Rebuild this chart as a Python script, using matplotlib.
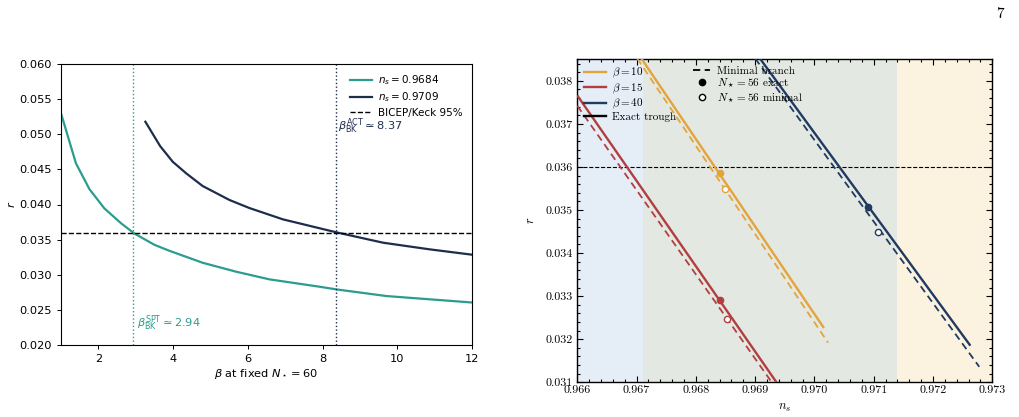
import numpy as np
import matplotlib
matplotlib.use('Agg')
import matplotlib.pyplot as plt
from matplotlib.font_manager import FontProperties
from matplotlib.lines import Line2D
from matplotlib.ticker import MultipleLocator

# ---- left panel data: r vs beta at fixed N=60
beta_a = [1.0, 1.40, 1.76, 2.16, 2.61, 2.96, 3.5, 3.9, 4.79, 5.69, 6.58, 7.92, 8.37, 9.71, 12.0]
r_a = [0.05301, 0.04587, 0.04220, 0.03945, 0.03731, 0.03588, 0.03425, 0.0334, 0.03169,
       0.03041, 0.02932, 0.02827, 0.02789, 0.02694, 0.02602]
beta_b = [3.258, 3.652, 3.99, 4.35, 4.79, 5.51, 6.04, 6.94, 8.37, 9.62, 10.87, 12.0]
r_b = [0.05181, 0.04834, 0.0461, 0.04445, 0.04264, 0.04064, 0.0395, 0.03788, 0.03603,
       0.03455, 0.0336, 0.03284]
beta_spt = 2.94
beta_act = 8.37
r_bk = 0.036

# ---- right panel data: r vs n_s for three betas (endpoints of straight segments)
ns_exact = {10: [0.96708, 0.97016], 15: [0.9660, 0.96936], 40: [0.96908, 0.97263]}
r_exact = {10: [0.03852, 0.03226], 15: [0.03766, 0.0310], 40: [0.03852, 0.03185]}
ns_min = {10: [0.96701, 0.97023], 15: [0.9660, 0.96928], 40: [0.96900, 0.97278]}
r_min = {10: [0.03852, 0.03192], 15: [0.03742, 0.0310], 40: [0.03852, 0.03136]}
ns_pt_exact = {10: 0.96841, 15: 0.96841, 40: 0.97090}
r_pt_exact = {10: 0.03585, 15: 0.03292, 40: 0.03507}
ns_pt_min = {10: 0.96849, 15: 0.96852, 40: 0.97108}
r_pt_min = {10: 0.03548, 15: 0.03247, 40: 0.03449}
bands = [(0.966, 0.9671), (0.9671, 0.9714), (0.9714, 0.973)]

teal = '#2a9d8f'
navy = '#1f2d4d'
cols = {10: '#e3a43c', 15: '#b23f3f', 40: '#213a60'}
band_cols = ['#e5edf7', '#e3e8e2', '#fbf3e0']

fig = plt.figure(figsize=(10.19, 4.17), dpi=100)

# left axes
fs = 8.2
ax = fig.add_axes([61/1019, 1 - 344.7/417, 411/1019, 280.4/417])
ax.plot(beta_a, r_a, color=teal, lw=1.6, label=r'$n_s = 0.9684$')
ax.plot(beta_b, r_b, color=navy, lw=1.6, label=r'$n_s = 0.9709$')
ax.axhline(r_bk, color='k', ls='--', lw=1.0, label='BICEP/Keck 95%')
ax.axvline(beta_spt, color=teal, ls=':', lw=1.0)
ax.axvline(beta_act, color=navy, ls=':', lw=1.0)
ax.text(beta_spt + 0.1, 0.0230, r'$\beta_{\rm BK}^{\rm SPT} \simeq 2.94$', color=teal,
        fontsize=fs, va='center')
ax.text(beta_act + 0.04, 0.0511, r'$\beta_{\rm BK}^{\rm ACT} \simeq 8.37$', color=navy,
        fontsize=fs, va='center')
ax.set_xlim(1, 12)
ax.set_ylim(0.02, 0.06)
ax.set_yticks(np.arange(0.02, 0.0601, 0.005))
ax.set_xticks([2, 4, 6, 8, 10, 12])
ax.tick_params(labelsize=fs, length=3, width=0.7)
ax.set_xlabel(r'$\beta$ at fixed $N_\star = 60$', fontsize=fs, labelpad=2)
ax.set_ylabel(r'$r$', fontsize=fs, labelpad=2)
for s in ax.spines.values():
    s.set_linewidth(0.8)
ax.legend(loc='upper right', frameon=False, fontsize=7.5, handlelength=2.1,
          handletextpad=0.6, borderaxespad=0.5, labelspacing=0.3)

# right axes
cm = FontProperties(family='cmr10', math_fontfamily='cm', size=8.0)
ax2 = fig.add_axes([577.3/1019, 1 - 382.3/417, 415/1019, 323/417])
for (a, b), c in zip(bands, band_cols):
    ax2.axvspan(a, b, color=c, lw=0, zorder=0)
for bt in [10, 15, 40]:
    ax2.plot(ns_exact[bt], r_exact[bt], color=cols[bt], lw=1.7, solid_capstyle='butt', zorder=3)
    ax2.plot(ns_min[bt], r_min[bt], color=cols[bt], lw=1.3, ls=(0, (4, 2.5)), zorder=3)
    ax2.plot(ns_pt_exact[bt], r_pt_exact[bt], 'o', color=cols[bt], ms=4.5, zorder=4)
    ax2.plot(ns_pt_min[bt], r_pt_min[bt], 'o', mfc='white', mec=cols[bt], mew=1.0, ms=4.5, zorder=4)
ax2.axhline(r_bk, color='k', ls='--', lw=0.8, zorder=2)
ax2.set_xlim(0.966, 0.973)
ax2.set_ylim(0.031, 0.0385)
ax2.xaxis.set_major_locator(MultipleLocator(0.001))
ax2.yaxis.set_major_locator(MultipleLocator(0.001))
ax2.xaxis.set_minor_locator(MultipleLocator(0.0002))
ax2.yaxis.set_minor_locator(MultipleLocator(0.0002))
ax2.xaxis.set_major_formatter(plt.FormatStrFormatter('%.3f'))
ax2.yaxis.set_major_formatter(plt.FormatStrFormatter('%.3f'))
ax2.tick_params(which='both', direction='in', top=True, right=True, width=0.8,
                labelsize=8.6, labelfontfamily='cmr10')
ax2.tick_params(which='major', length=4)
ax2.tick_params(which='minor', length=2)
ax2.tick_params(axis='x', pad=2)
for s in ax2.spines.values():
    s.set_linewidth(1.0)
ax2.set_xlabel(r'$n_s$', fontproperties=cm, fontsize=9, labelpad=5)
ax2.set_ylabel(r'$r$', fontproperties=cm, fontsize=9, labelpad=6)

h1 = [Line2D([], [], color=cols[10], lw=1.7), Line2D([], [], color=cols[15], lw=1.7),
      Line2D([], [], color=cols[40], lw=1.7), Line2D([], [], color='k', lw=1.7)]
l1 = [r'$\beta = 10$', r'$\beta = 15$', r'$\beta = 40$', 'Exact trough']
leg1 = ax2.legend(h1, l1, loc='upper left', frameon=False, prop=cm, handlelength=2.0,
                  handletextpad=0.5, borderaxespad=0.2, labelspacing=0.1)
ax2.add_artist(leg1)
h2 = [Line2D([], [], color='k', lw=1.3, ls=(0, (4, 2.5))),
      Line2D([], [], color='k', marker='o', ls='none', ms=4.5),
      Line2D([], [], color='k', marker='o', mfc='white', ls='none', ms=4.5, mew=1.0)]
l2 = ['Minimal branch', r'$N_\star = 56$ exact', r'$N_\star = 56$ minimal']
ax2.legend(h2, l2, loc='upper left', bbox_to_anchor=(0.262, 1.0), frameon=False, prop=cm,
           handlelength=1.6, handletextpad=0.55, borderaxespad=0.2, labelspacing=0.1)

fig.text(1000/1019, 1 - 14/417, '7', fontproperties=FontProperties(family='cmr10', size=11),
         ha='center', va='center')

fig.savefig('out.png', dpi=100)
